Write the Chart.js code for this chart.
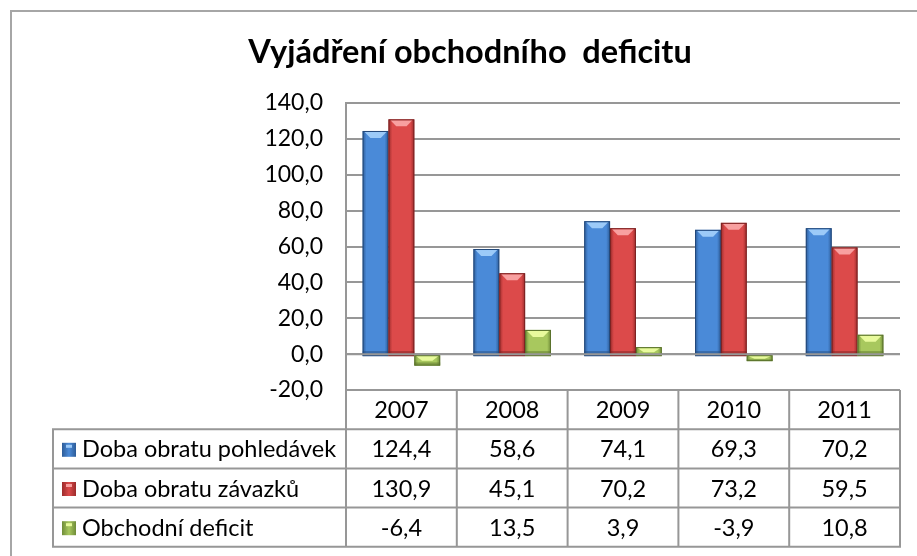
<!DOCTYPE html>
<html>
<head>
<meta charset="utf-8">
<script src="https://cdn.jsdelivr.net/npm/chart.js@4.4.1/dist/chart.umd.min.js"></script>
<style>
html,body{margin:0;padding:0;background:#fff;}
#wrap{width:917px;height:556px;position:relative;}
</style>
</head>
<body>
<div id="wrap"><canvas id="c" width="917" height="556"></canvas></div>
<script>
const categories = ['2007', '2008', '2009', '2010', '2011'];
const seriesNames = ['Doba obratu pohledávek', 'Doba obratu závazků', 'Obchodní deficit'];
const pohledavky = [124.4, 58.6, 74.1, 69.3, 70.2];
const zavazky = [130.9, 45.1, 70.2, 73.2, 59.5];
const deficit = [-6.4, 13.5, 3.9, -3.9, 10.8];
const yTicks = [-20, 0, 20, 40, 60, 80, 100, 120, 140];

const FONT = 'Lato, "Open Sans", sans-serif';
const GRID = '#979797';
const palettes = [
  {mid:'#4a8ad8', edge:'#2d5c98', cap:'#9ccaf8', dark:'#24497a'},
  {mid:'#dc4a4a', edge:'#9c2c2c', cap:'#f8a0a0', dark:'#7a2222'},
  {mid:'#a8c85e', edge:'#6f8c38', cap:'#e8fa9c', dark:'#5a722c'}
];

function fmt(v){ return v.toFixed(1).replace('.', ','); }

const barStyle = {
  id: 'barStyle',
  afterDatasetsDraw(chart) {
    const ctx = chart.ctx;
    const zeroY = chart.scales.y.getPixelForValue(0);
    chart.data.datasets.forEach((ds, di) => {
      const meta = chart.getDatasetMeta(di);
      const p = palettes[di];
      meta.data.forEach((bar) => {
        const w = bar.width;
        const l = bar.x - w / 2, r = bar.x + w / 2;
        const positive = bar.y <= bar.base;
        const top = Math.min(bar.y, bar.base);
        const bot = Math.max(bar.y, bar.base) + (positive ? 3 : 0);
        const h = bot - top;
        ctx.save();
        const g = ctx.createLinearGradient(l, 0, r, 0);
        g.addColorStop(0, p.edge);
        g.addColorStop(0.15, p.mid);
        g.addColorStop(0.5, p.mid);
        g.addColorStop(0.85, p.mid);
        g.addColorStop(1, p.edge);
        ctx.fillStyle = g;
        ctx.fillRect(l, top, w, h);
        const capH = Math.min(6, h * 0.45);
        ctx.fillStyle = p.cap;
        ctx.beginPath();
        ctx.moveTo(l + 2, top + 1);
        ctx.lineTo(r - 2, top + 1);
        ctx.lineTo(r - w * 0.3, top + 1 + capH);
        ctx.lineTo(l + w * 0.3, top + 1 + capH);
        ctx.closePath();
        ctx.fill();
        const bandH = Math.min(5, h * 0.3);
        ctx.fillStyle = p.dark;
        ctx.globalAlpha = 0.5;
        ctx.fillRect(l, bot - bandH, w, bandH);
        ctx.globalAlpha = 1;
        ctx.strokeStyle = p.dark;
        ctx.lineWidth = 1;
        ctx.strokeRect(l + 0.5, top + 0.5, w - 1, h - 1);
        ctx.restore();
      });
    });
    ctx.save();
    ctx.strokeStyle = GRID;
    ctx.lineWidth = 2;
    ctx.beginPath();
    ctx.moveTo(chart.chartArea.left, zeroY);
    ctx.lineTo(chart.chartArea.right, zeroY);
    ctx.stroke();
    ctx.restore();
  }
};

const dataTable = {
  id: 'dataTable',
  afterDraw(chart) {
    const ctx = chart.ctx;
    const area = chart.chartArea;
    const xs = chart.scales.x;
    const n = categories.length;
    const colW = (area.right - area.left) / n;
    const rowH = 39.2;
    const legendLeft = 53;
    const t0 = area.bottom;
    const rows = [pohledavky, zavazky, deficit];
    const tBottom = t0 + rowH * (rows.length + 1);
    ctx.save();
    ctx.strokeStyle = '#a6a6a6';
    ctx.lineWidth = 2;
    ctx.strokeRect(11, 11, 1000, 1000);
    ctx.strokeStyle = GRID;
    ctx.lineWidth = 2;
    ctx.beginPath();
    for (let i = 0; i <= n; i++) {
      const x = area.left + colW * i;
      ctx.moveTo(x, t0);
      ctx.lineTo(x, tBottom);
    }
    ctx.moveTo(legendLeft, t0 + rowH);
    ctx.lineTo(legendLeft, tBottom);
    for (let r = 1; r <= rows.length + 1; r++) {
      const y = t0 + rowH * r;
      ctx.moveTo(legendLeft - 1, y);
      ctx.lineTo(area.right + 1, y);
    }
    ctx.stroke();
    ctx.fillStyle = '#000';
    ctx.font = '23.5px ' + FONT;
    ctx.textAlign = 'center';
    ctx.textBaseline = 'middle';
    categories.forEach((c, i) => {
      ctx.fillText(c, xs.getPixelForValue(i), t0 + rowH / 2 + 1);
    });
    rows.forEach((vals, r) => {
      const yc = t0 + rowH * (r + 1) + rowH / 2 + 1;
      vals.forEach((v, i) => {
        ctx.textAlign = 'center';
        ctx.fillText(fmt(v), xs.getPixelForValue(i), yc);
      });
      const p = palettes[r];
      const mx = 62, my = yc - 7, ms = 14;
      const g = ctx.createLinearGradient(mx, 0, mx + ms, 0);
      g.addColorStop(0, p.edge); g.addColorStop(0.5, p.mid); g.addColorStop(1, p.edge);
      ctx.fillStyle = g;
      ctx.fillRect(mx, my, ms, ms);
      ctx.fillStyle = p.cap;
      ctx.fillRect(mx + 4, my + 2, ms - 8, 3);
      ctx.fillStyle = '#000';
      ctx.textAlign = 'left';
      ctx.fillText(seriesNames[r], 82, yc);
    });
    ctx.restore();
  }
};

new Chart(document.getElementById('c'), {
  type: 'bar',
  data: {
    labels: categories,
    datasets: [
      {label: seriesNames[0], data: pohledavky, backgroundColor: 'rgba(0,0,0,0)'},
      {label: seriesNames[1], data: zavazky, backgroundColor: 'rgba(0,0,0,0)'},
      {label: seriesNames[2], data: deficit, backgroundColor: 'rgba(0,0,0,0)'}
    ]
  },
  options: {
    responsive: false,
    animation: false,
    layout: {padding: {left: 40, right: 17, top: 0, bottom: 166}},
    datasets: {bar: {categoryPercentage: 0.70, barPercentage: 1.0}},
    plugins: {
      legend: {display: false},
      tooltip: {enabled: false},
      title: {
        display: true,
        text: 'Vyjádření obchodního  deficitu',
        color: '#000',
        font: {family: FONT, size: 32.5, weight: 'bold', lineHeight: 1.2},
        padding: {top: 33, bottom: 31}
      }
    },
    scales: {
      x: {display: false},
      y: {
        min: -20, max: 140,
        afterFit(scale) { scale.width = 306; },
        afterBuildTicks(scale) { scale.ticks = yTicks.map(v => ({value: v})); },
        border: {display: true, color: GRID, width: 2},
        grid: {color: GRID, lineWidth: 2, drawTicks: false},
        ticks: {
          color: '#000',
          padding: 23,
          font: {family: FONT, size: 23},
          callback: (v) => fmt(v)
        }
      }
    }
  },
  plugins: [barStyle, dataTable]
});
</script>
</body>
</html>
